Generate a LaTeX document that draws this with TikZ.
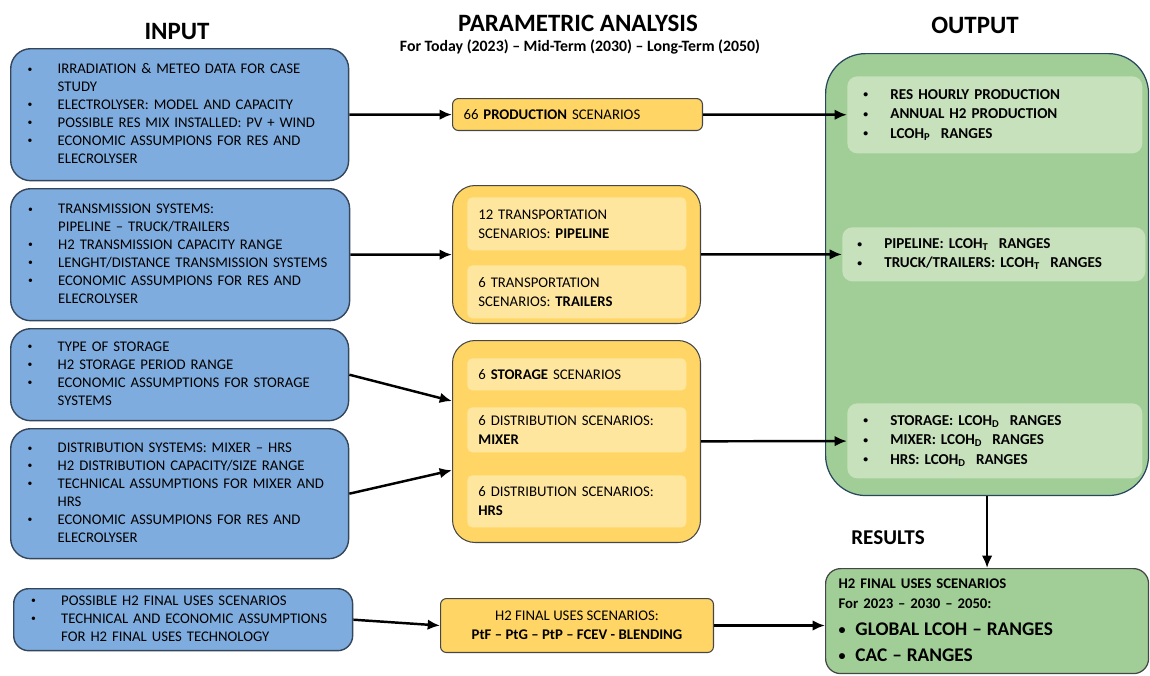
\documentclass[tikz,border=0pt]{standalone}
\usepackage{fontspec}
\setmainfont{Carlito}
\usetikzlibrary{arrows.meta}

\definecolor{infill}{RGB}{127,172,222}
\definecolor{inline}{RGB}{52,70,92}
\definecolor{scfill}{RGB}{255,214,102}
\definecolor{scinner}{RGB}{255,230,158}
\definecolor{scline}{RGB}{70,70,70}
\definecolor{outfill}{RGB}{161,206,150}
\definecolor{outinner}{RGB}{199,225,188}
\definecolor{outline}{RGB}{40,70,95}

\newcommand{\sdot}{\raisebox{0.8pt}{\fontsize{5.5}{5.5}\selectfont\textbullet}}
\newcommand{\bigdot}{\raisebox{0.6pt}{\fontsize{8}{8}\selectfont\textbullet}}
\newcommand{\dotlist}[1]{\begin{tabular}{@{}p{0.6cm}@{}l@{}}#1\end{tabular}}
\newcommand{\resdot}[1]{\begin{tabular}{@{}p{0.54cm}@{}l@{}}#1\end{tabular}}

\tikzset{
  head/.style={font=\fontsize{14.2}{16}\selectfont\bfseries},
  inbox/.style={draw=inline, line width=0.8pt, fill=infill, rounded corners=0.4cm,
    anchor=north west, inner sep=0pt, text width=6.08cm, align=left,
    font=\fontsize{8.4}{10.2}\selectfont},
  scenbox/.style={draw=scline, line width=0.6pt, fill=scfill, anchor=north west,
    inner sep=0pt, font=\fontsize{8.4}{10.8}\selectfont},
  scenin/.style={fill=scinner, rounded corners=0.1cm, anchor=north west, inner sep=0pt,
    text width=3.94cm, align=left, font=\fontsize{8.4}{10.8}\selectfont},
  outbox/.style={draw=outline, line width=0.7pt, fill=outfill, anchor=north west, inner sep=0pt},
  outin/.style={fill=outinner, rounded corners=0.2cm, anchor=north west, inner sep=0pt,
    align=left, font=\fontsize{8.6}{11.1}\selectfont\bfseries},
  flow/.style={line width=1.4pt, -{Latex[length=7pt,width=6pt]}}
}

\begin{document}
\begin{tikzpicture}[x=0.02cm,y=-0.02cm]
\useasboundingbox (0,0) rectangle (1150,676);

\node[head] (hin) at (177,32) {INPUT};
\node[head] (hpa) at (578,23) {PARAMETRIC ANALYSIS};
\node[font=\fontsize{9}{11}\selectfont\bfseries] (hsub) at (580,47) {For Today (2023) – Mid-Term (2030) – Long-Term (2050)};
\node[head] (hout) at (975,25) {OUTPUT};

\node[inbox, minimum width=6.76cm, minimum height=2.64cm] (in1) at (10,48) {\dotlist{
  \sdot & IRRADIATION \& METEO DATA FOR CASE\\
  & STUDY\\
  \sdot & ELECTROLYSER: MODEL AND CAPACITY\\
  \sdot & POSSIBLE RES MIX INSTALLED: PV + WIND\\
  \sdot & ECONOMIC ASSUMPIONS FOR RES AND\\
  & ELECROLYSER}};
\node[inbox, minimum width=6.78cm, minimum height=2.64cm] (in2) at (10,188) {\dotlist{
  \sdot & TRANSMISSION SYSTEMS:\\
  & PIPELINE – TRUCK/TRAILERS\\
  \sdot & H2 TRANSMISSION CAPACITY RANGE\\
  \sdot & LENGHT/DISTANCE TRANSMISSION SYSTEMS\\
  \sdot & ECONOMIC ASSUMPIONS FOR RES AND\\
  & ELECROLYSER}};
\node[inbox, minimum width=6.76cm, minimum height=1.84cm] (in3) at (10,328) {\dotlist{
  \sdot & TYPE OF STORAGE\\
  \sdot & H2 STORAGE PERIOD RANGE\\
  \sdot & ECONOMIC ASSUMPTIONS FOR STORAGE\\
  & SYSTEMS}};
\node[inbox, minimum width=6.76cm, minimum height=2.6cm] (in4) at (10,428) {\dotlist{
  \sdot & DISTRIBUTION SYSTEMS: MIXER – HRS\\
  \sdot & H2 DISTRIBUTION CAPACITY/SIZE RANGE\\
  \sdot & TECHNICAL ASSUMPTIONS FOR MIXER AND\\
  & HRS\\
  \sdot & ECONOMIC ASSUMPIONS FOR RES AND\\
  & ELECROLYSER}};
\node[inbox, rounded corners=0.3cm, minimum width=6.78cm, minimum height=1.24cm] (in5) at (13,588) {\dotlist{
  \sdot & POSSIBLE H2 FINAL USES SCENARIOS\\
  \sdot & TECHNICAL AND ECONOMIC ASSUMPTIONS\\
  & FOR H2 FINAL USES TECHNOLOGY}};

\node[scenbox, rounded corners=0.12cm, minimum width=5cm, minimum height=0.64cm,
  text width=4.56cm, align=left] (prod) at (452,98) {66 \textbf{PRODUCTION} SCENARIOS};
\node[scenbox, rounded corners=0.45cm, minimum width=4.96cm, minimum height=2.76cm] (trans) at (452,185) {};
\node[scenin, minimum width=4.38cm, minimum height=1.06cm] (pipe) at (467,197) {12 TRANSPORTATION\\SCENARIOS: \textbf{PIPELINE}};
\node[scenin, minimum width=4.38cm, minimum height=1.06cm] (trail) at (467,265) {6 TRANSPORTATION\\SCENARIOS: \textbf{TRAILERS}};
\node[scenbox, rounded corners=0.45cm, minimum width=4.96cm, minimum height=4.04cm] (dist) at (452,340) {};
\node[scenin, minimum width=4.38cm, minimum height=0.64cm] (stor) at (467,358) {6 \textbf{STORAGE} SCENARIOS};
\node[scenin, minimum width=4.38cm, minimum height=0.9cm] (mix) at (467,407) {6 DISTRIBUTION SCENARIOS:\\\textbf{MIXER}};
\node[scenin, minimum width=4.38cm, minimum height=1.04cm] (hrs) at (467,475) {6 DISTRIBUTION SCENARIOS:\\\textbf{HRS}};
\node[scenbox, rounded corners=0.12cm, minimum width=5.46cm, minimum height=1.08cm,
  align=center] (uses) at (440,598) {H2 FINAL USES SCENARIOS:\\\textbf{PtF – PtG – PtP – FCEV - BLENDING}};

\node[outbox, rounded corners=0.8cm, minimum width=6.46cm, minimum height=8.84cm] (out) at (825,53) {};
\node[outin, minimum width=5.9cm, minimum height=1.54cm, text width=5.26cm] (oprod) at (847,76) {\resdot{
  \sdot & RES HOURLY PRODUCTION\\
  \sdot & ANNUAL H2 PRODUCTION\\
  \sdot & LCOH\textsubscript{P}\ \ RANGES}};
\node[outin, minimum width=6.06cm, minimum height=1.08cm, text width=5.46cm] (otrans) at (842,227) {\resdot{
  \sdot & PIPELINE: LCOH\textsubscript{T}\ \ RANGES\\
  \sdot & TRUCK/TRAILERS: LCOH\textsubscript{T}\ \ RANGES}};
\node[outin, minimum width=5.9cm, minimum height=1.5cm, text width=5.26cm] (odist) at (847,403) {\resdot{
  \sdot & STORAGE: LCOH\textsubscript{D}\ \ RANGES\\
  \sdot & MIXER: LCOH\textsubscript{D}\ \ RANGES\\
  \sdot & HRS: LCOH\textsubscript{D}\ \ RANGES}};

\node[font=\fontsize{12}{14}\selectfont\bfseries] (hres) at (888,538) {RESULTS};
\node[outbox, draw=scline, rounded corners=0.3cm, minimum width=6.46cm, minimum height=2.1cm,
  text width=5.94cm, align=left, font=\fontsize{8.4}{11.4}\selectfont\bfseries] (res) at (825,568) {\begin{tabular}{@{}l@{}}
  H2 FINAL USES SCENARIOS\\
  For 2023 – 2030 – 2050:\\[4pt]
  {\fontsize{11}{13}\selectfont \bigdot\ \ GLOBAL LCOH – RANGES}\\[3.5pt]
  {\fontsize{11}{13}\selectfont \bigdot\ \ CAC – RANGES}
  \end{tabular}};

\draw[flow] (in1) -- (prod);
\draw[flow] (prod) -- (oprod);
\draw[flow] (in2) -- (trans);
\draw[flow] (trans) -- (otrans);
\draw[flow] (in3.east) -- (dist.162);
\draw[flow] (in4.east) -- (dist.193);
\draw[flow] (dist) -- (odist);
\draw[flow] (in5.east) -- (uses.west);
\draw[flow] (uses.east) -- (uses.east -| res.west);
\draw[flow] (out) -- (res);
\end{tikzpicture}
\end{document}
